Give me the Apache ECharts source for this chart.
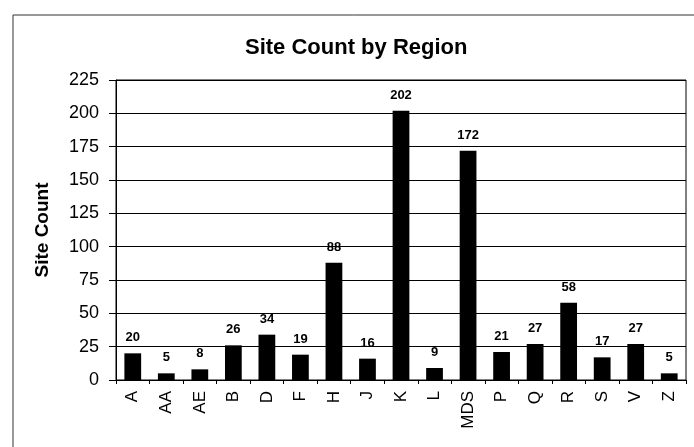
<!DOCTYPE html>
<html>
<head>
<meta charset="utf-8">
<script src="https://cdn.jsdelivr.net/npm/echarts@6/dist/echarts.min.js"></script>
<style>
  html, body { margin: 0; padding: 0; background: #fff; }
  #chart { width: 694px; height: 447px; }
</style>
</head>
<body>
<div id="chart"></div>
<script>
// 数据
const regions = ['A', 'AA', 'AE', 'B', 'D', 'F', 'H', 'J', 'K', 'L', 'MDS', 'P', 'Q', 'R', 'S', 'V', 'Z'];
const siteCounts = [20, 5, 8, 26, 34, 19, 88, 16, 202, 9, 172, 21, 27, 58, 17, 27, 5];
const yMin = 0;
const yMax = 225;
const yStep = 25;

const font = 'Arial, "Liberation Sans", sans-serif';
let chart = echarts.init(document.getElementById('chart'));

chart.setOption({
  backgroundColor: '#ffffff',
  animation: false,
  title: {
    text: 'Site Count by Region',
    left: 240,
    top: 32,
    textStyle: { color: '#000', fontWeight: 'bold', fontSize: 22, fontFamily: font }
  },
  // 外框
  graphic: [
    { type: 'line', shape: { x1: 13, y1: 15, x2: 694, y2: 15 }, style: { stroke: '#333', lineWidth: 1 } },
    { type: 'line', shape: { x1: 13, y1: 15, x2: 13, y2: 447 }, style: { stroke: '#333', lineWidth: 1 } }
  ],
  grid: {
    left: 116,
    right: 8,
    top: 80,
    bottom: 67,
    show: true,
    borderColor: '#000',
    borderWidth: 1
  },
  xAxis: {
    type: 'category',
    data: regions,
    axisLine: { lineStyle: { color: '#000', width: 1 } },
    axisTick: { show: true, alignWithLabel: false, length: 4, lineStyle: { color: '#000' } },
    axisLabel: {
      rotate: 90,
      interval: 0,
      margin: 11,
      color: '#000',
      fontSize: 17,
      fontFamily: font
    }
  },
  yAxis: {
    type: 'value',
    min: yMin,
    max: yMax,
    interval: yStep,
    name: 'Site Count',
    nameLocation: 'middle',
    nameRotate: 90,
    nameGap: 64,
    nameTextStyle: { color: '#000', fontWeight: 'bold', fontSize: 19, fontFamily: font },
    axisLine: { show: true, lineStyle: { color: '#000', width: 1 } },
    axisTick: { show: true, length: 7, lineStyle: { color: '#000' } },
    axisLabel: { color: '#000', fontSize: 18, margin: 17, fontFamily: font },
    splitLine: { show: true, lineStyle: { color: '#000', width: 1 } }
  },
  series: [
    {
      type: 'bar',
      data: siteCounts,
      barWidth: '50%',
      itemStyle: { color: '#000' },
      label: {
        show: true,
        position: 'top',
        distance: 9,
        color: '#000',
        fontWeight: 'bold',
        fontSize: 13,
        fontFamily: font
      }
    }
  ]
});
</script>
</body>
</html>
